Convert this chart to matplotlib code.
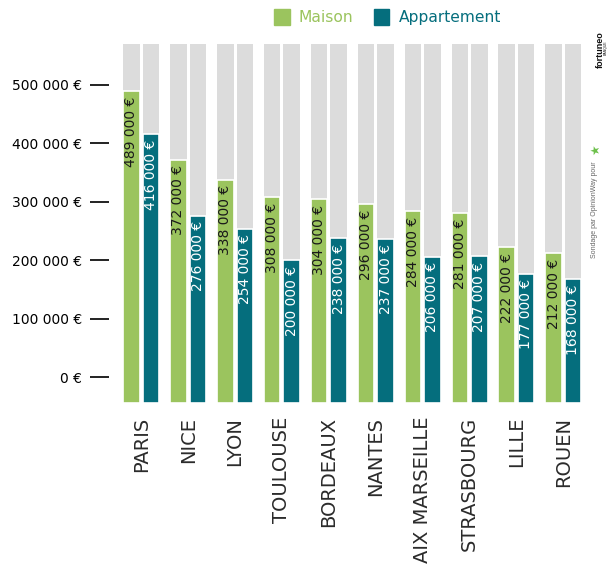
import matplotlib.pyplot as plt
from matplotlib.patches import Rectangle

villes = ["PARIS", "NICE", "LYON", "TOULOUSE", "BORDEAUX", "NANTES",
          "AIX MARSEILLE", "STRASBOURG", "LILLE", "ROUEN"]
maison = [489000, 372000, 338000, 308000, 304000, 296000, 284000, 281000, 222000, 212000]
appartement = [416000, 276000, 254000, 200000, 238000, 237000, 206000, 207000, 177000, 168000]
ticks = [0, 100000, 200000, 300000, 400000, 500000]

vert = "#9bc45e"
bleu = "#056e7d"
gris = "#dcdcdc"
texte = "#2b2b2b"

ymin, ymax = -44500, 570000


def euro(v):
    return f"{v:,}".replace(",", " ") + " €"


fig = plt.figure(figsize=(6.11, 5.65), dpi=100)
ax = fig.add_axes([117.8 / 611, 162 / 565, 469 / 611, 359 / 565])

x = list(range(len(villes)))
dx = 0.208
w = 0.35
xm = [i - dx for i in x]
xa = [i + dx for i in x]

# fond gris
ax.bar(xm, ymax - ymin, bottom=ymin, width=w, color=gris, zorder=1)
ax.bar(xa, ymax - ymin, bottom=ymin, width=w, color=gris, zorder=1)

# barres
ax.bar(xm, [v - ymin for v in maison], bottom=ymin, width=w, color=vert,
       edgecolor="white", linewidth=1.2, zorder=2)
ax.bar(xa, [v - ymin for v in appartement], bottom=ymin, width=w, color=bleu,
       edgecolor="white", linewidth=1.2, zorder=2)

for i in x:
    ax.annotate(euro(maison[i]), (xm[i], maison[i]), xytext=(0, -4),
                textcoords="offset points", rotation=90, ha="center", va="top",
                fontsize=10, color="#1a1a1a", zorder=3)
    ax.annotate(euro(appartement[i]), (xa[i], appartement[i]), xytext=(0, -4),
                textcoords="offset points", rotation=90, ha="center", va="top",
                fontsize=10, color="white", zorder=3)

ax.set_xlim(-0.5, len(villes) - 0.5)
ax.set_ylim(ymin, ymax)
ax.set_xticks(x)
ax.set_xticklabels(villes, rotation=90, fontsize=14, color=texte, va="top")
ax.tick_params(axis="x", length=0, pad=10)
ax.set_yticks(ticks)
ax.set_yticklabels([euro(t) for t in ticks], fontsize=10.5, color=texte)
ax.tick_params(axis="y", length=14, width=1.4, color="#222222", pad=6)
ax.spines["left"].set_position(("outward", 6))
for s in ax.spines.values():
    s.set_visible(False)
ax.patch.set_alpha(0)

# légende
handles = [Rectangle((0, 0), 1, 1, color=vert), Rectangle((0, 0), 1, 1, color=bleu)]
fig.legend(handles, ["Maison", "Appartement"], loc="upper right",
           bbox_to_anchor=(512 / 611, 1 + 2 / 565), ncol=2, frameon=False,
           fontsize=11.2, labelcolor=[vert, bleu], handlelength=1.0,
           handleheight=1.25, handletextpad=0.6, columnspacing=1.3,
           borderpad=0.2)

# source
fig.text(595 / 611, 1 - 210 / 565, "Sondage par OpinionWay pour", rotation=90,
         ha="center", va="center", fontsize=5.0, color="#666666",
         family="Liberation Sans")
fig.text(596 / 611, 1 - 150 / 565, "★", rotation=90, ha="center", va="center",
         fontsize=8.5, color="#6cc04a")
fig.text(600 / 611, 1 - 50 / 565, "fortuneo", rotation=90, ha="center",
         va="center", fontsize=6.5, fontweight="bold", color="#111111",
         family="Liberation Sans")
fig.text(606 / 611, 1 - 48 / 565, "BANQUE", rotation=90, ha="center",
         va="center", fontsize=2.5, color="#111111", family="Liberation Sans")

fig.savefig("out.png", dpi=100, facecolor="white")
